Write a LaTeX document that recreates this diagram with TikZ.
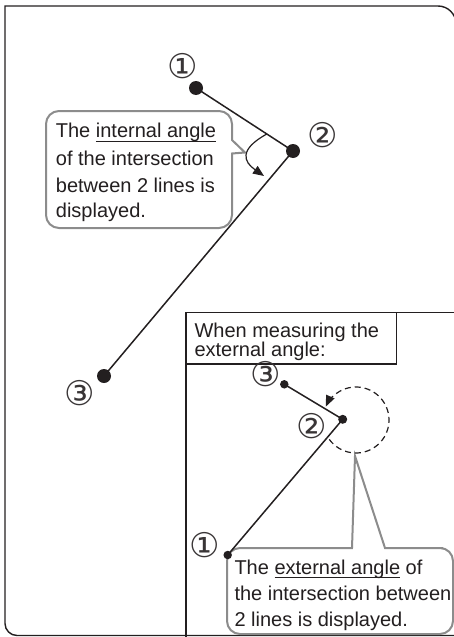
\documentclass[tikz,border=0pt]{standalone}
\usepackage{fontspec}
\setmainfont{Liberation Sans}
\newfontfamily\circfont{DejaVu Sans}
\usetikzlibrary{arrows.meta,calc}
\definecolor{ink}{HTML}{231F20}
\definecolor{callgray}{HTML}{8C8C8C}
\newcommand\myuline[1]{\sbox0{#1}\rlap{\rule[-3.8pt]{\wd0}{1pt}}\usebox0}
\begin{document}
\begin{tikzpicture}[x=1pt,y=-1pt,
  frame/.style={draw=ink, line width=1.4pt},
  callout/.style={draw=callgray, line width=2pt, fill=white},
  txt/.style={anchor=base west, inner sep=0pt, text=ink, font=\fontsize{20}{24}\selectfont},
  num/.style={inner sep=0pt, text=ink!90, font=\circfont\fontsize{34}{34}\selectfont},
  bigdot/.style={circle, fill=ink, inner sep=0pt, minimum size=14pt},
  smalldot/.style={circle, fill=ink, inner sep=0pt, minimum size=8.5pt},
  seg/.style={draw=ink, line width=1.5pt},
  arr/.style={-{Triangle[length=11pt,width=9pt]}}]
\useasboundingbox (0,0) rectangle (454,637);
\clip (0,0) rectangle (454,637);
% outer frame
\draw[frame, rounded corners=12] (470,635.5) -- (5,635.5) -- (5,300) [sharp corners] -- (5,6) -- (300,6) [rounded corners=18] -- (456,6) -- (456,660);
% inset frame and title
\draw[frame, line width=1.3pt] (186,660) -- (186,312.7) -- (470,312.7);
\draw[frame, line width=1.3pt] (186,312.7) rectangle (396.7,364);
\node[txt] (ti1) at (194.3,337.3) {When measuring the};
\node[txt] (ti2) at (194.3,356.7) {external angle:};
% internal callout
\draw[callout] [sharp corners] (232,153.5) -- (245,152.5) -- (232,140) -- (232,125) [rounded corners=13] -- (232,111) -- (46,111) -- (46,228) -- (232,228) -- (232,200) [sharp corners] -- cycle;
\node[txt] (a1) at (55.7,137.7) {The \myuline{internal angle}};
\node[txt] (a2) at (55.7,165) {of the intersection};
\node[txt] (a3) at (55.7,192.3) {between 2 lines is};
\node[txt] (a4) at (55.7,217.7) {displayed.};
% main figure
\node[bigdot] (p1) at (196,88) {};
\node[bigdot] (p2) at (293,151) {};
\node[bigdot] (p3) at (104,376) {};
\draw[seg] (p1.center) -- (p2.center) -- (p3.center);
\coordinate (as) at ($(p1.center)!0.73!(p2.center)$);
\coordinate (ae) at (264,176);
\draw[ink, line width=1.2pt, arr] (as) .. controls (238,150) and (244,162) .. (ae);
\node[num] (n1) at (183,66) {①};
\node[num] (n2) at (323,135) {②};
\node[num] (n3) at (80,393) {③};
% external callout
\draw[callout] [sharp corners] (385,548) -- (355,456) -- (352,548) -- (300,548) [rounded corners=13] -- (260,548) -- (227,548) -- (227,634) -- (453,634) -- (453,548) -- (430,548) -- (410,548) [sharp corners] -- cycle;
\node[txt] (b1) at (234.3,574) {The \myuline{external angle} of};
\node[txt] (b2) at (234.3,600) {the intersection between};
\node[txt] (b3) at (234.3,626) {2 lines is displayed.};
% inset figure
\node[smalldot] (q3) at (284.3,384.3) {};
\node[smalldot, minimum size=9pt] (q2) at (342.7,419.3) {};
\node[smalldot] (q1) at (227.7,555) {};
\draw[seg] (q3.center) -- (q2.center) -- (q1.center);
\coordinate (dc) at (356,420);
\draw[ink, line width=1.2pt, dash pattern=on 6pt off 4pt, arr] ($(dc)+(144:33)$) arc[start angle=144, end angle=-156, radius=33];
\node[num] (m3) at (265.5,374) {③};
\node[num] (m2) at (312,426) {②};
\node[num] (m1) at (205,545) {①};
\end{tikzpicture}
\end{document}
